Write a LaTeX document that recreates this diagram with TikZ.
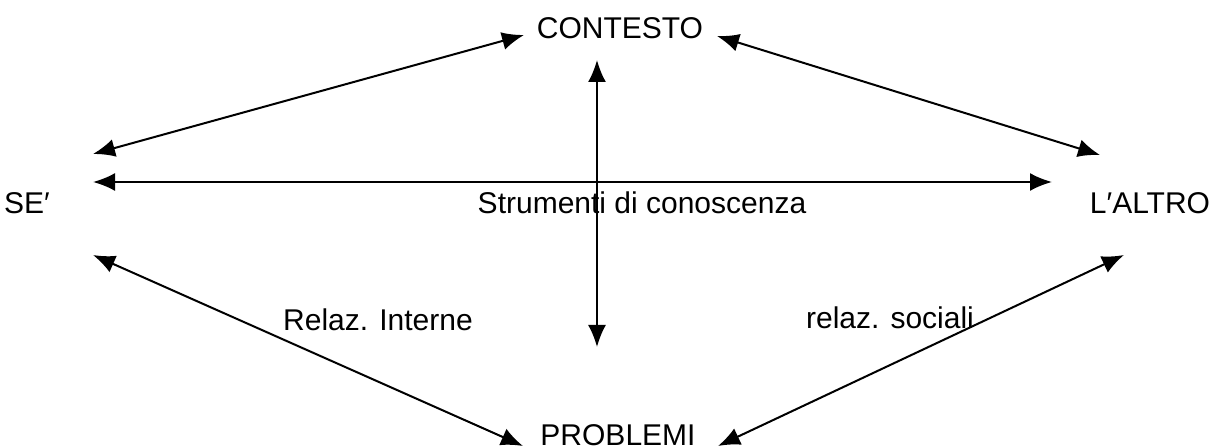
\documentclass[tikz,border=0pt]{standalone}
\usepackage{fontspec}
\setmainfont{Liberation Sans}
\usetikzlibrary{arrows.meta}

\tikzset{
  lbl/.style={inner sep=0, anchor=base, font=\fontsize{15}{18}\selectfont},
  rel/.style={{Latex[length=11pt,width=9pt]}-{Latex[length=11pt,width=9pt]}, line width=1pt},
}

\begin{document}
\begin{tikzpicture}[x=0.5pt, y=-0.5pt]
  \useasboundingbox (0,0) rectangle (1223,448);
  \def\l{93}
  \def\r{1100}

  \node[lbl] (CON) at (620, 39) {CONTESTO};
  \node[lbl] (SE) at (27, 214) {SE′};
  \node[lbl] (ALT) at (1150, 214) {L′ALTRO};
  \node[lbl] (PRO) at (618, 446) {PROBLEMI};

  \node[lbl] (STR) at (642, 214) {Strumenti di conoscenza};
  \node[lbl] (INT) at (378, 331) {Relaz. Interne};
  \node[lbl] (SOC) at (890, 329) {relaz. sociali};

  \coordinate (se1) at (\l, 154);
  \coordinate (se2) at (\l, 182);
  \coordinate (se3) at (\l, 255);
  \coordinate (con1) at (524, 35);
  \coordinate (con2) at (717, 36);
  \coordinate (con3) at (597, 60);
  \coordinate (alt1) at (\r, 155);
  \coordinate (alt2) at (1052, 182);
  \coordinate (alt3) at (1124, 255);
  \coordinate (pro1) at (523, 446);
  \coordinate (pro2) at (718, 446);
  \coordinate (pro3) at (597, 347);

  \draw[rel] (se1) -- (con1);
  \draw[rel] (con2) -- (alt1);
  \draw[rel] (se2) -- (alt2);
  \draw[rel] (con3) -- (pro3);
  \draw[rel] (se3) -- (pro1);
  \draw[rel] (pro2) -- (alt3);
\end{tikzpicture}
\end{document}
